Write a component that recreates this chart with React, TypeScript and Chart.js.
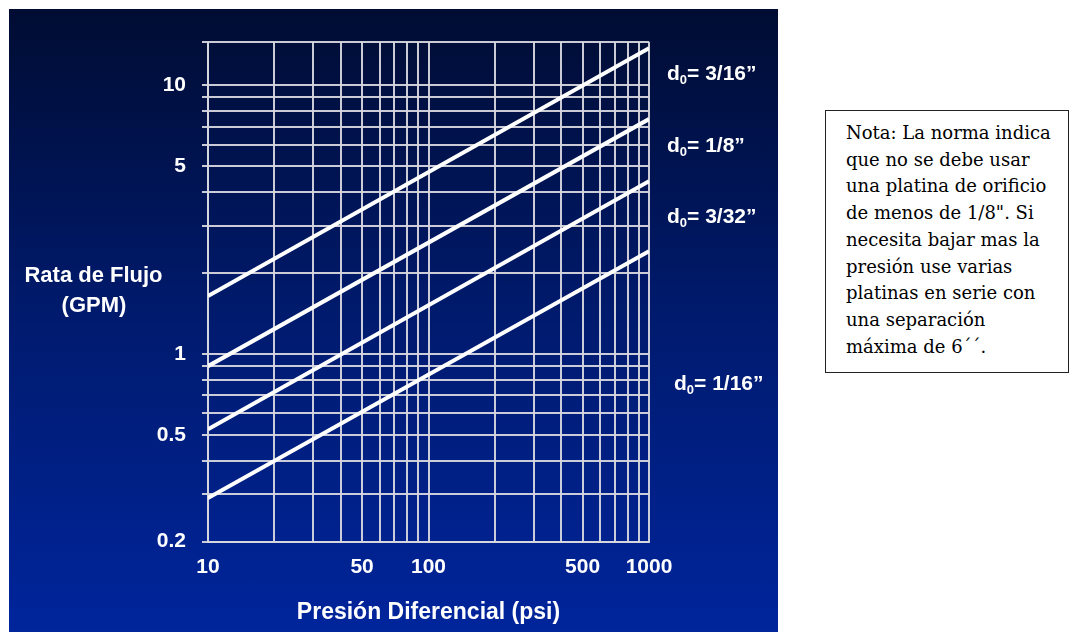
import React, { useEffect, useRef } from 'react';
import { Chart, registerables } from 'chart.js';

Chart.register(...registerables);

// Presión diferencial (psi) at the two ends of each straight line
const pressurePsi = [10, 1000];
// Rata de flujo (GPM) for each orifice diameter
const flow316 = [1.64, 13.7];
const flow18 = [0.9, 7.47];
const flow332 = [0.524, 4.39];
const flow116 = [0.291, 2.41];

const seriesNames = ['3/16\u201D', '1/8\u201D', '3/32\u201D', '1/16\u201D'];
// y value (GPM) where each series label sits (baseline)
const seriesLabelAt = [10.44, 5.63, 3.07, 0.733];

const xLabelValues = [10, 50, 100, 500, 1000];
const yLabelValues = [0.2, 0.5, 1, 5, 10];
const xGridValues = [10, 20, 30, 40, 50, 60, 70, 80, 90, 100, 200, 300, 400, 500, 600, 700, 800, 900, 1000];
const yGridValues = [0.2, 0.3, 0.4, 0.5, 0.6, 0.7, 0.8, 0.9, 1, 2, 3, 4, 5, 6, 7, 8, 9, 10, 14.5];

const xMin = 10;
const xMax = 1000;
const yMin = 0.2;
const yMax = 14.5;

const noteLines = [
  'Nota: La norma indica',
  'que no se debe usar',
  'una platina de orificio',
  'de menos de 1/8". Si',
  'necesita bajar mas la',
  'presión use varias',
  'platinas en serie con',
  'una separación',
  'máxima de 6´´.',
];

const SANS = '"Liberation Sans", Arial, sans-serif';
const GRID = 'rgba(214,214,222,0.95)';

function pts(ys: number[]) {
  return pressurePsi.map((x, i) => ({ x, y: ys[i] }));
}

function isLabel(v: number, list: number[]) {
  return list.some((l) => Math.abs(v - l) < 1e-9 * l);
}

const overlayPlugin = {
  id: 'overlayText',
  afterDatasetsDraw(chart: any) {
    const { ctx, chartArea, scales } = chart;
    ctx.save();
    ctx.fillStyle = '#ffffff';
    ctx.textAlign = 'left';
    ctx.textBaseline = 'alphabetic';
    seriesNames.forEach((name, i) => {
      const x = chartArea.right + (i === 3 ? 25 : 18);
      const y = scales.y.getPixelForValue(seriesLabelAt[i]);
      ctx.font = `bold 21px ${SANS}`;
      ctx.fillText('d', x, y);
      let w = ctx.measureText('d').width;
      ctx.font = `bold 13px ${SANS}`;
      ctx.fillText('0', x + w, y + 4);
      w += ctx.measureText('0').width;
      ctx.font = `bold 21px ${SANS}`;
      ctx.fillText('= ' + name, x + w, y);
    });
    ctx.textAlign = 'center';
    ctx.font = `bold 22px ${SANS}`;
    ctx.fillText('Rata de Flujo', chartArea.left - 114.5, 273);
    ctx.fillText('(GPM)', chartArea.left - 114, 303);
    ctx.restore();
  },
};

function FlowChart() {
  const ref = useRef<HTMLCanvasElement>(null);
  useEffect(() => {
    if (!ref.current) return;
    const lineDs = (label: string, ys: number[]) => ({
      label,
      data: pts(ys),
      borderColor: '#ffffff',
      borderWidth: 4,
      pointRadius: 0,
      fill: false,
      tension: 0,
    });
    const chart = new Chart(ref.current, {
      type: 'line',
      data: {
        datasets: [
          lineDs(seriesNames[0], flow316),
          lineDs(seriesNames[1], flow18),
          lineDs(seriesNames[2], flow332),
          lineDs(seriesNames[3], flow116),
        ],
      },
      options: {
        responsive: false,
        animation: false,
        devicePixelRatio: 1,
        layout: { padding: { left: 0, right: 129, top: 32.7, bottom: 0 } },
        plugins: { legend: { display: false }, tooltip: { enabled: false } },
        scales: {
          x: {
            type: 'logarithmic',
            min: xMin,
            max: xMax,
            afterBuildTicks: (s: any) => {
              s.ticks = xGridValues.map((v) => ({ value: v }));
            },
            afterFit: (s: any) => {
              s.height = 90.3;
            },
            ticks: {
              autoSkip: false,
              maxRotation: 0,
              color: '#ffffff',
              font: { family: SANS, size: 21, weight: 'bold' },
              padding: 13,
              callback: (v: any) => (isLabel(Number(v), xLabelValues) ? String(v) : ''),
            },
            grid: { color: GRID, lineWidth: 2, drawTicks: false },
            border: { color: GRID, width: 2 },
            title: {
              display: true,
              text: 'Presión Diferencial (psi)',
              color: '#ffffff',
              font: { family: SANS, size: 23, weight: 'bold' },
              padding: { top: 0, bottom: 6 },
            },
          },
          y: {
            type: 'logarithmic',
            min: yMin,
            max: yMax,
            afterBuildTicks: (s: any) => {
              s.ticks = yGridValues.map((v) => ({ value: v }));
            },
            afterFit: (s: any) => {
              s.width = 199;
            },
            ticks: {
              autoSkip: false,
              color: '#ffffff',
              font: { family: SANS, size: 21, weight: 'bold' },
              padding: 16,
              callback: (v: any) => (isLabel(Number(v), yLabelValues) ? String(v) : ''),
            },
            grid: { color: GRID, lineWidth: 2, tickLength: 6 },
            border: { color: GRID, width: 2 },
          },
        },
      },
      plugins: [overlayPlugin],
    } as any);
    return () => chart.destroy();
  }, []);
  return <canvas ref={ref} width={769} height={623} style={{ display: 'block' }} />;
}

export default function App() {
  return (
    <div style={{ position: 'absolute', left: 0, top: 0, width: 1070, height: 632, background: '#ffffff', overflow: 'hidden' }}>
      <div
        style={{
          position: 'absolute',
          left: 9,
          top: 9,
          width: 769,
          height: 623,
          background: 'linear-gradient(to bottom, #000c32 0%, #001a6c 48%, #00259c 100%)',
        }}
      >
        <FlowChart />
      </div>
      <div
        style={{
          position: 'absolute',
          left: 825,
          top: 110,
          width: 244,
          height: 263,
          boxSizing: 'border-box',
          border: '1.5px solid #222',
          padding: '9px 0 0 20px',
          fontFamily: '"DejaVu Serif", serif',
          fontSize: 18,
          lineHeight: '26.7px',
          color: '#000',
        }}
      >
        {noteLines.map((l, i) => (
          <div key={i} style={{ whiteSpace: 'nowrap' }}>{l}</div>
        ))}
      </div>
    </div>
  );
}
